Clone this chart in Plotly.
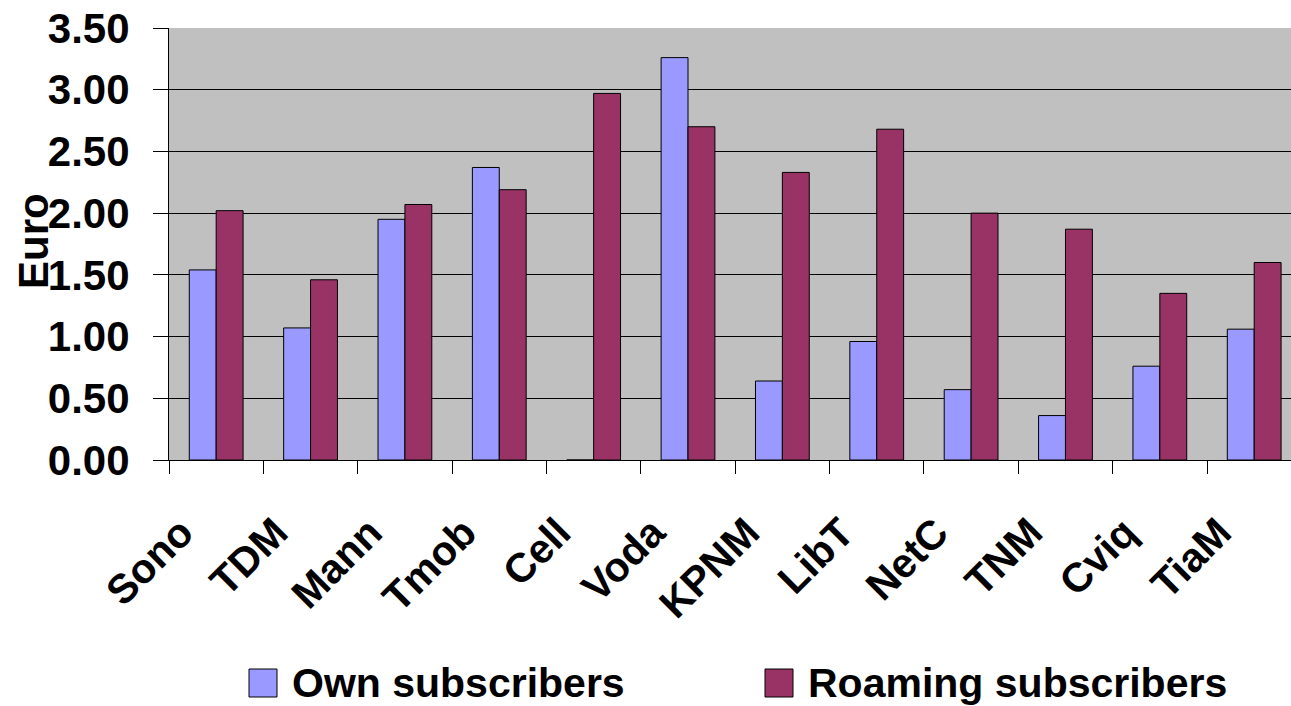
import plotly.graph_objects as go

categories = ["Sono", "TDM", "Mann", "Tmob", "Cell", "Voda", "KPNM", "LibT", "NetC", "TNM", "Cviq", "TiaM"]
own_subscribers = [1.54, 1.07, 1.95, 2.37, 0.0, 3.26, 0.64, 0.96, 0.57, 0.36, 0.76, 1.06]
roaming_subscribers = [2.02, 1.46, 2.07, 2.19, 2.97, 2.70, 2.33, 2.68, 2.00, 1.87, 1.35, 1.60]
series_names = ["Own subscribers", "Roaming subscribers"]
y_ticks = [0, 0.5, 1.0, 1.5, 2.0, 2.5, 3.0, 3.5]

OWN_C = "#9999FF"
ROAM_C = "#993366"
FONT = "Liberation Sans, Arial, sans-serif"

# pixel geometry helpers (plot area: x 169..1291, y 28..460)
PL, PT, PB, PW = 169, 28, 460, 1122
PH = PB - PT
def px(x):
    return (x - PL) / PW
def py(y):
    return (PB - y) / PH

fig = go.Figure()
fig.add_trace(go.Bar(x=categories, y=own_subscribers, name=series_names[0],
                     marker=dict(color=OWN_C, line=dict(color="black", width=1))))
fig.add_trace(go.Bar(x=categories, y=roaming_subscribers, name=series_names[1],
                     marker=dict(color=ROAM_C, line=dict(color="black", width=1))))

# custom legend (large swatches)
shapes = []
annotations = []
for name, col, sx, tx in [(series_names[0], OWN_C, 249, 290), (series_names[1], ROAM_C, 765, 806)]:
    shapes.append(dict(type="rect", xref="paper", yref="paper",
                       x0=px(sx), x1=px(sx + 28), y0=py(697), y1=py(669),
                       fillcolor=col, line=dict(color="black", width=1)))
    annotations.append(dict(text=name, xref="paper", yref="paper", x=px(tx), y=py(683),
                            xanchor="left", yanchor="middle", showarrow=False,
                            font=dict(size=41, family=FONT, weight="bold")))
annotations.append(dict(text="Euro", textangle=-90, xref="paper", yref="paper",
                        x=px(33), y=py(241), xanchor="center", yanchor="middle",
                        showarrow=False, font=dict(size=42, family=FONT, weight="bold")))

fig.update_layout(
    width=1291, height=706,
    margin=dict(l=PL, r=0, t=PT, b=706 - PB),
    paper_bgcolor="white",
    plot_bgcolor="#C0C0C0",
    barmode="group",
    bargap=0.43,
    bargroupgap=0,
    font=dict(family=FONT, color="black", weight="bold"),
    showlegend=False,
    shapes=shapes,
    annotations=annotations,
)
fig.update_xaxes(
    type="category", range=[-0.5, 11.39], automargin=False,
    tickangle=-45, tickfont=dict(size=41, family=FONT, weight="bold"),
    ticks="outside", tickson="boundaries", ticklen=13, tickcolor="black", tickwidth=1,
    ticklabelstandoff=31, ticklabelshift=-35,
    showline=True, linecolor="black", linewidth=1, showgrid=False,
)
fig.update_yaxes(
    range=[0, 3.5], tickvals=y_ticks, ticktext=[f"{v:.2f}" for v in y_ticks], automargin=False,
    tickfont=dict(size=42, family=FONT, weight="bold"),
    ticks="outside", ticklen=15, tickcolor="black", tickwidth=1,
    ticklabelstandoff=15,
    showline=True, linecolor="black", linewidth=1,
    showgrid=True, gridcolor="black", gridwidth=1, zeroline=False,
)

fig.write_html("out.html")
